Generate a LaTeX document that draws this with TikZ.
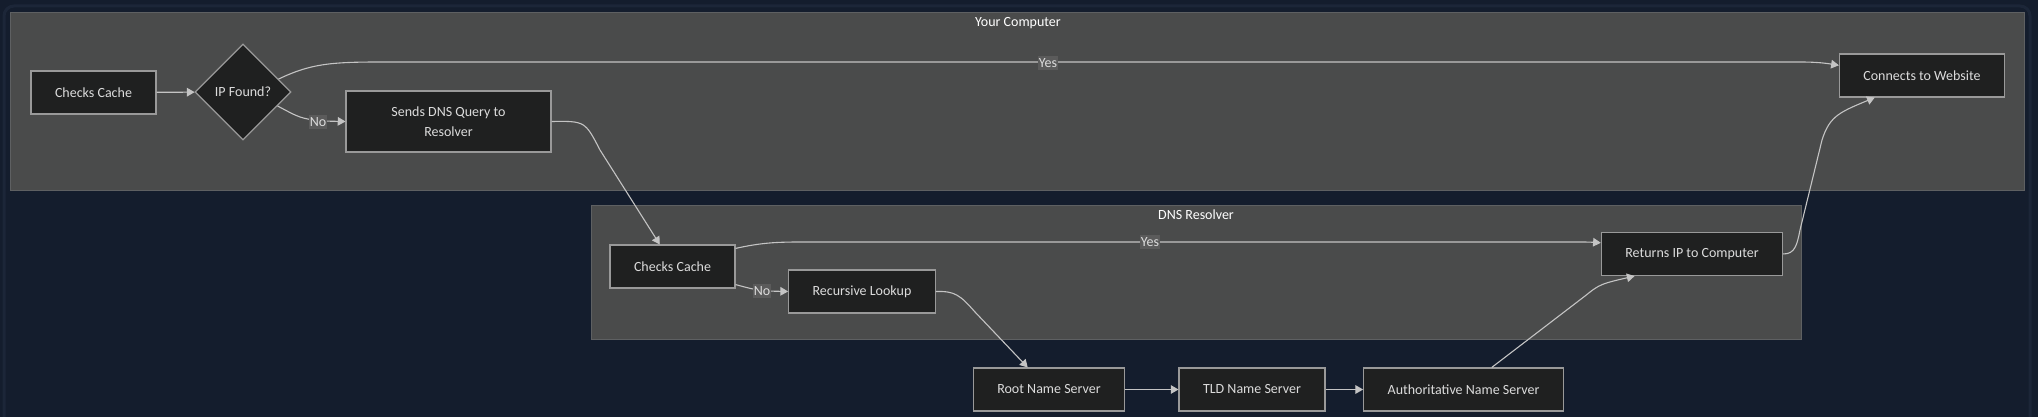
\documentclass[tikz,border=0pt]{standalone}
\usepackage{fontspec}
\setmainfont{Carlito}
\usetikzlibrary{positioning,shapes,arrows}

\definecolor{bgnavy}{HTML}{141D2D}
\definecolor{framenavy}{HTML}{1C2638}
\definecolor{clusterfill}{HTML}{4A4B4B}
\definecolor{clusterline}{HTML}{5E6062}
\definecolor{boxfill}{HTML}{1F2020}
\definecolor{boxline}{HTML}{999999}
\definecolor{edgegray}{HTML}{C4C4C4}
\definecolor{labelfill}{HTML}{5B5B5B}
\definecolor{boxtext}{HTML}{DCDCDC}

\begin{document}
\begin{tikzpicture}[x=1pt,y=-1pt,
  box/.style={rectangle,draw=boxline,line width=1.1pt,fill=boxfill,text=boxtext,font=\fontsize{14}{20}\selectfont,minimum height=43pt,inner xsep=24pt},
  decision/.style={diamond,draw=boxline,line width=1.1pt,fill=boxfill,text=boxtext,font=\fontsize{14}{17}\selectfont,minimum width=96pt,minimum height=96pt,inner sep=0pt},
  cluster/.style={draw=clusterline,line width=1pt,fill=clusterfill},
  title/.style={text=white,font=\fontsize{14}{17}\selectfont},
  flow/.style={draw=edgegray,line width=1.1pt,-triangle 60},
  answer/.style={fill=labelfill,text=boxtext,font=\fontsize{14}{17}\selectfont,inner xsep=0.5pt,inner ysep=2.5pt}]
\useasboundingbox [fill=bgnavy] (0,0) rectangle (2038,417);
\draw [framenavy,line width=3pt,rounded corners=10pt] (4,6) rectangle (2030,450);

% clusters
\draw [cluster] (10,13) rectangle (2024,190);
\node [title] (comptitle) at (1018,23) {Your Computer};
\draw [cluster] (591,205) rectangle (1801,339);
\node [title] (restitle) at (1196,215) {DNS Resolver};

% your computer
\node at (93.5,92.5) [box] (cc1) {Checks Cache};
\node at (243,92) [decision] (ipf) {IP Found?};
\node at (448.5,121.5) [box,minimum width=205pt,minimum height=61pt,align=center] (sdq) {Sends DNS Query to\\Resolver};
\node at (1922,75.5) [box] (web) {Connects to Website};

% resolver
\node at (672.5,266.5) [box] (cc2) {Checks Cache};
\node at (862,291.5) [box] (rec) {Recursive Lookup};
\node at (1692,254) [box] (ret) {Returns IP to Computer};

% name servers
\node at (1049,389.5) [box] (root) {Root Name Server};
\node at (1252,389.5) [box] (tld) {TLD Name Server};
\node at (1463.5,389.5) [box] (auth) {Authoritative Name Server};

\draw [flow] (cc1) -- (ipf);
\draw [flow] (ipf.20) .. controls (310,64) and (330,62) .. (380,62) -- (1800,62) .. controls (1822,62) and (1830,64) .. (web.173);
\draw [flow] (ipf.-22) .. controls (300,118) .. (320,121) -- (sdq.west);
\draw [flow] (sdq.east) .. controls (585,121) .. (600,150) -- (cc2.120);
\draw [flow] (cc2.16) .. controls (760,243) and (775,242) .. (800,242) -- (1570,242) .. controls (1590,242) .. (ret.173);
\draw [flow] (cc2.-16) .. controls (752,289) .. (765,291) -- (rec.west);
\draw [flow] (rec.east) .. controls (955,291) and (960,295) .. (975,312) -- (root.134);
\draw [flow] (root) -- (tld);
\draw [flow] (tld) -- (auth);
\draw [flow] (auth.38) -- (1585,296) .. controls (1600,284) .. (ret.201);
\draw [flow] (ret.east) .. controls (1795,254) and (1797,245) .. (1800,230) -- (1822,140) .. controls (1830,115) and (1840,112) .. (web.205);

\node at (1048,63) [answer] (yes1) {Yes};
\node at (318,122) [answer] (no1) {No};
\node at (1150,242) [answer] (yes2) {Yes};
\node at (762,291) [answer] (no2) {No};
\end{tikzpicture}
\end{document}
